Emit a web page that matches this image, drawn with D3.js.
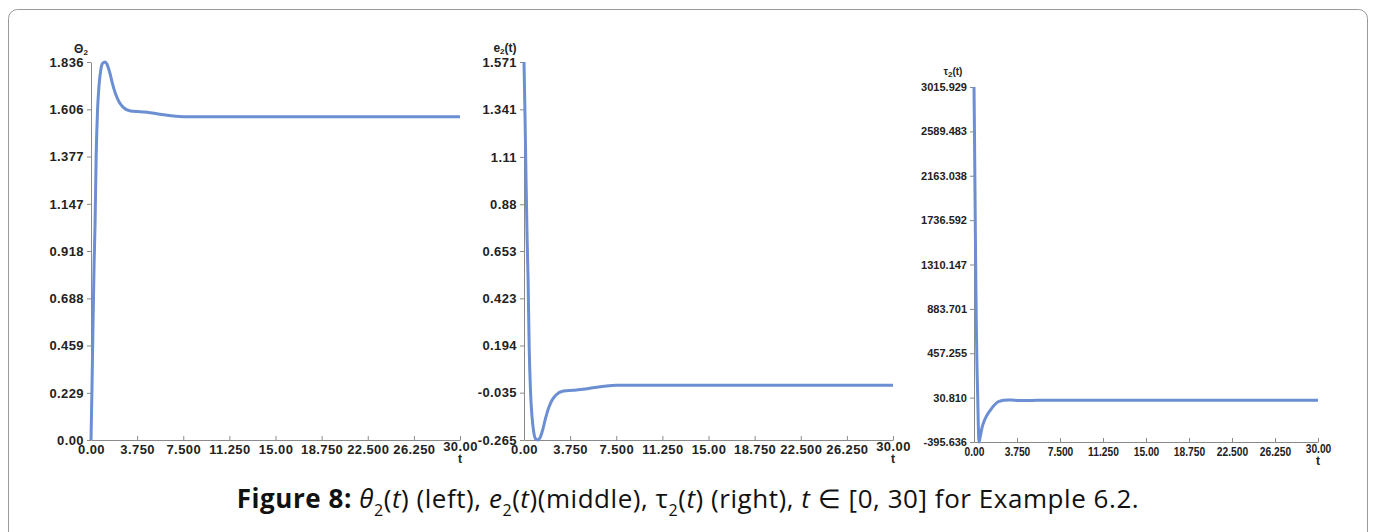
<!DOCTYPE html>
<html>
<head>
<meta charset="utf-8">
<script src="https://cdn.jsdelivr.net/npm/d3@7"></script>
<style>
  body { margin: 0; background: #fff; }
  svg { display: block; }
  .tick text { font-family: "Liberation Sans", Arial, sans-serif; font-weight: bold; fill: #222; }
  .ttl { font-family: "Liberation Sans", Arial, sans-serif; font-weight: bold; fill: #222; }
  .cap { font-family: "Open Sans", sans-serif; fill: #111; }
</style>
</head>
<body>
<svg id="chart" width="1375" height="532"></svg>
<script>
// time samples (denser where the response moves fast)
var timeA = [0, 0.08, 0.16, 0.25, 0.33, 0.42, 0.53, 0.65, 0.8, 0.95, 1.14, 1.3, 1.5, 1.75, 2.0, 2.3, 2.6, 3.2, 4.0, 4.8, 5.6, 6.5, 7.5, 10, 15, 20, 25, 30]
var timeB = [0, 0.04, 0.08, 0.12, 0.16, 0.2, 0.26, 0.32, 0.38, 0.44, 0.55, 0.7, 0.9, 1.15, 1.4, 1.7, 2.0, 2.3, 2.6, 3.0, 3.5, 4.5, 5.5, 7, 30]

// theta_2(t)
var theta2 = [0, 0.25, 0.55, 0.85, 1.05, 1.38, 1.6, 1.72, 1.8, 1.83, 1.836, 1.825, 1.79, 1.73, 1.68, 1.64, 1.617, 1.598, 1.594, 1.59, 1.582, 1.575, 1.570, 1.570, 1.570, 1.570, 1.570, 1.570]
// e_2(t)
var err2 = [1.571, 1.32, 1.02, 0.72, 0.52, 0.19, -0.03, -0.15, -0.23, -0.26, -0.265, -0.254, -0.22, -0.16, -0.11, -0.07, -0.046, -0.027, -0.023, -0.019, -0.011, -0.004, 0.001, 0.001, 0.001, 0.001, 0.001, 0.001]
// tau_2(t)
var tau2 = [3015.929, 2600, 2100, 1600, 1150, 750, 330, 60, -250, -395.636, -340, -257, -190, -135, -94, -50, -17, -2, 6, 8, 6, 2, 5, 5, 5]

// tick labels as printed
var xTickLabels = ["0.00", "3.750", "7.500", "11.250", "15.00", "18.750", "22.500", "26.250", "30.00"]
var xTickValues = [0, 3.75, 7.5, 11.25, 15, 18.75, 22.5, 26.25, 30]
var thetaTickLabels = ["0.00", "0.229", "0.459", "0.688", "0.918", "1.147", "1.377", "1.606", "1.836"]
var errTickLabels = ["-0.265", "-0.035", "0.194", "0.423", "0.653", "0.88", "1.11", "1.341", "1.571"]
var tauTickLabels = ["-395.636", "30.810", "457.255", "883.701", "1310.147", "1736.592", "2163.038", "2589.483", "3015.929"]

var svg = d3.select("#chart")

// outer frame
svg.append("rect")
   .attr("x", 8.5).attr("y", 9.5)
   .attr("width", 1359).attr("height", 540)
   .attr("rx", 9)
   .attr("fill", "#fff")
   .attr("stroke", "#9a9a9a")

var panels = [
  { t: timeA, v: theta2, labels: thetaTickLabels, left: 91, right: 460, top: 62, bottom: 440,
    font: 13, spacing: 0.4, xFont: 13, xScaleText: 1, title: "\u0398", titleRest: "", titleX: 81, titleY: 53 },
  { t: timeA, v: err2, labels: errTickLabels, left: 524, right: 893, top: 62, bottom: 440,
    font: 13, spacing: 0.4, xFont: 13, xScaleText: 1, title: "e", titleRest: "(t)", titleX: 505, titleY: 52 },
  { t: timeB, v: tau2, labels: tauTickLabels, left: 974, right: 1318, top: 87, bottom: 442,
    font: 11, spacing: 0, xFont: 12.5, xScaleText: 0.82, title: "\u03c4", titleRest: "(t)", titleX: 953, titleY: 75 }
]

panels.forEach(function(p) {
  var yVals = p.labels.map(Number)
  var x = d3.scaleLinear().domain([0, 30]).range([p.left, p.right])
  var y = d3.scaleLinear().domain([yVals[0], yVals[yVals.length - 1]]).range([p.bottom, p.top])

  var g = svg.append("g")

  // y axis
  var ya = g.append("g")
     .attr("transform", "translate(" + p.left + ",0)")
     .call(d3.axisLeft(y).tickValues(yVals)
        .tickFormat(function(d, i) { return p.labels[i] })
        .tickSizeInner(4).tickSizeOuter(0).tickPadding(3))
  ya.selectAll("text")
    .style("font-size", p.font + "px")
    .style("letter-spacing", p.spacing + "px")

  // x axis, ticks point up
  var xa = g.append("g")
     .attr("transform", "translate(0," + p.bottom + ")")
     .call(d3.axisBottom(x).tickValues(xTickValues)
        .tickFormat(function(d, i) { return xTickLabels[i] })
        .tickSizeInner(-4).tickSizeOuter(0).tickPadding(5))
  xa.selectAll("text")
    .style("font-size", p.xFont + "px")
    .style("letter-spacing", p.spacing + "px")
    .attr("transform", function(d, i) {
      return "translate(0," + (i == 8 ? -3 : 0) + ") scale(" + p.xScaleText + ",1)"
    })

  g.selectAll(".domain, .tick line").attr("stroke", "#8a8a8a")

  // "t" under the last tick
  g.append("text").attr("class", "ttl")
   .attr("x", p.right).attr("y", p.bottom + 23)
   .attr("text-anchor", "middle").style("font-size", "12px")
   .text("t")

  // axis title
  var tt = g.append("text").attr("class", "ttl")
   .attr("x", p.titleX).attr("y", p.titleY)
   .attr("text-anchor", "middle").style("font-size", (p.font - 1) + "px")
  tt.append("tspan").text(p.title)
  tt.append("tspan").attr("dy", 2).style("font-size", "8px").text("2")
  tt.append("tspan").attr("dy", -2).text(p.titleRest)

  var line = d3.line()
     .x(function(d, i) { return x(p.t[i]) })
     .y(function(d) { return y(d) })
     .curve(d3.curveMonotoneX)

  g.append("path")
   .datum(p.v)
   .attr("d", line)
   .attr("fill", "none")
   .attr("stroke", "#6b8fd2")
   .attr("stroke-width", 3)
   .attr("stroke-linejoin", "round")
})

// caption
var cap = svg.append("text").attr("class", "cap")
   .attr("x", 688).attr("y", 508)
   .attr("text-anchor", "middle")
   .style("font-size", "26px")
   .style("letter-spacing", "0.55px")
cap.append("tspan").style("font-weight", "bold").text("Figure 8: ")
cap.append("tspan").style("font-style", "italic").text("\u03b8")
cap.append("tspan").attr("dy", 8).style("font-size", "16px").text("2")
cap.append("tspan").attr("dy", -8).text("(")
cap.append("tspan").style("font-style", "italic").text("t")
cap.append("tspan").text(") (left), ")
cap.append("tspan").style("font-style", "italic").text("e")
cap.append("tspan").attr("dy", 8).style("font-size", "16px").text("2")
cap.append("tspan").attr("dy", -8).text("(")
cap.append("tspan").style("font-style", "italic").text("t")
cap.append("tspan").text(")(middle), \u03c4")
cap.append("tspan").attr("dy", 8).style("font-size", "16px").text("2")
cap.append("tspan").attr("dy", -8).text("(")
cap.append("tspan").style("font-style", "italic").text("t")
cap.append("tspan").text(") (right), ")
cap.append("tspan").style("font-style", "italic").text("t")
cap.append("tspan").text(" \u2208 [0, 30] for Example 6.2.")
</script>
</body>
</html>
